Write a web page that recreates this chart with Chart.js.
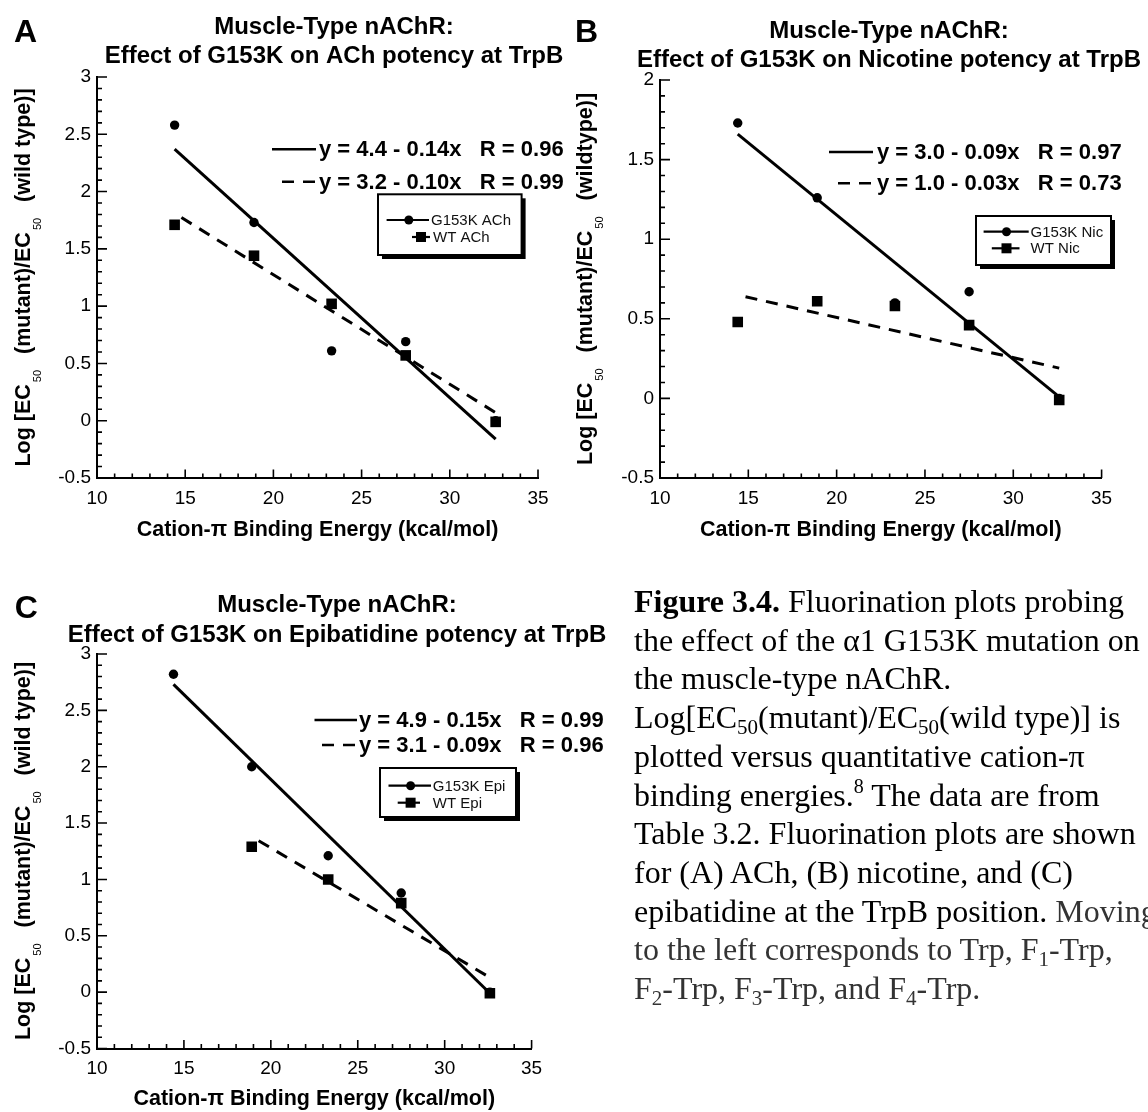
<!DOCTYPE html>
<html>
<head>
<meta charset="utf-8">
<script src="https://cdn.jsdelivr.net/npm/chart.js@4.4.1/dist/chart.umd.min.js"></script>
<style>
  html, body { margin:0; padding:0; background:#fff; }
  body { width:1148px; height:1112px; overflow:hidden; position:relative; }
  canvas { position:absolute; }
  #cap { position:absolute; left:634px; top:582px; font-family:'Liberation Serif','Times New Roman',serif;
         font-size:32px; line-height:38.7px; white-space:nowrap; color:#000; }
  #cap sub { font-size:21px; line-height:0; position:relative; top:0.28em; vertical-align:baseline; }
  #cap sup { font-size:20px; line-height:0; position:relative; top:-0.62em; vertical-align:baseline; }
  #cap .g { color:#333; }
</style>
</head>
<body>
<canvas id="cA" width="640" height="550" style="left:0px;top:0px"></canvas>
<canvas id="cB" width="588" height="550" style="left:560px;top:0px"></canvas>
<canvas id="cC" width="640" height="552" style="left:0px;top:560px"></canvas>
<div id="cap"><b>Figure 3.4.</b> Fluorination plots probing<br>the effect of the α1 G153K mutation on<br>the muscle-type nAChR.<br>Log[EC<sub>50</sub>(mutant)/EC<sub>50</sub>(wild type)] is<br>plotted versus quantitative cation-π<br>binding energies.<sup>8</sup> The data are from<br>Table 3.2. Fluorination plots are shown<br>for (A) ACh, (B) nicotine, and (C)<br>epibatidine at the TrpB position. <span class="g">Moving</span><br><span class="g">to the left corresponds to Trp, F<sub>1</sub>-Trp,</span><br><span class="g">F<sub>2</sub>-Trp, F<sub>3</sub>-Trp, and F<sub>4</sub>-Trp.</span></div>
<script>
// ---------------- data ----------------
const xEnergy = [14.4, 18.9, 23.3, 27.5, 32.6];
const xTicks  = [10, 15, 20, 25, 30, 35];
const yTicksAC = [-0.5, 0, 0.5, 1, 1.5, 2, 2.5, 3];
const yTicksB  = [-0.5, 0, 0.5, 1, 1.5, 2];

const achG153K    = [2.58, 1.73, 0.61, 0.69, 0.00];
const achWT       = [1.71, 1.44, 1.02, 0.57, -0.01];
const achFitX     = [14.4, 32.6];
const achFitG153K = [2.37, -0.16];
const achFitWT    = [1.81, 0.07];

const nicG153K    = [1.73, 1.26, 0.60, 0.67, 0.00];
const nicWT       = [0.48, 0.61, 0.58, 0.46, -0.01];
const nicFitX     = [14.4, 32.6];
const nicFitG153K = [1.66, 0.01];
const nicFitWT    = [0.65, 0.19];

const epiG153K     = [2.82, 2.00, 1.21, 0.88, 0.00];
const xEpiWT       = [18.9, 23.3, 27.5, 32.6];
const epiWT        = [1.29, 1.00, 0.79, -0.01];
const epiFitG153KX = [14.4, 32.6];
const epiFitG153K  = [2.73, -0.01];
const epiFitWTX    = [18.9, 32.6];
const epiFitWT     = [1.38, 0.13];

const panelLetters = ['A', 'B', 'C'];
const titleLine1   = 'Muscle-Type nAChR:';
const titleLine2   = ['Effect of G153K on ACh potency at TrpB',
                      'Effect of G153K on Nicotine potency at TrpB',
                      'Effect of G153K on Epibatidine potency at TrpB'];
const xAxisTitle   = 'Cation-\u03c0 Binding Energy (kcal/mol)';
const yTitleParts  = [['Log [EC', '50', '(mutant)/EC', '50', '(wild type)]'],
                      ['Log [EC', '50', '(mutant)/EC', '50', '(wildtype)]'],
                      ['Log [EC', '50', '(mutant)/EC', '50', '(wild type)]']];
const eqSolid  = ['y = 4.4 - 0.14x   R = 0.96', 'y = 3.0 - 0.09x   R = 0.97', 'y = 4.9 - 0.15x   R = 0.99'];
const eqDashed = ['y = 3.2 - 0.10x   R = 0.99', 'y = 1.0 - 0.03x   R = 0.73', 'y = 3.1 - 0.09x   R = 0.96'];
const legendG  = ['G153K ACh', 'G153K Nic', 'G153K Epi'];
const legendWT = ['WT ACh', 'WT Nic', 'WT Epi'];

// ---------------- layout (page coordinates) ----------------
const FONT = "'Liberation Sans', Arial, Helvetica, sans-serif";
const layouts = [
  { id:'cA', box:{left:0, top:0, w:640, h:550}, area:{l:97, r:538, t:77, b:478},
    xTickPad:9.6, xTitlePad:7,
    letter:{x:14, y:41.5}, title:{x:334, y1:34.3, y2:63.3}, yTitle:{x:30, cy:277.5},
    eq:{solid:[272,316], dash:[282,316], tx:319, y:[149.3,181.7]},
    leg:{x:378, y:194.3, w:143.6, h:60.7,
         rows:[{y:220, x0:386.6, x1:429, mx:408.8, tx:431}, {y:237, x0:412, x1:430, mx:421, tx:433}]} },
  { id:'cB', box:{left:560, top:0, w:588, h:550}, area:{l:660, r:1101.6, t:80, b:478},
    xTickPad:9.6, xTitlePad:7,
    letter:{x:575, y:41.7}, title:{x:889, y1:37.8, y2:67}, yTitle:{x:592, cy:279},
    eq:{solid:[829,873], dash:[838,873], tx:877, y:[152,183.3]},
    leg:{x:976, y:216, w:135, h:49,
         rows:[{y:231.7, x0:983.6, x1:1028.7, mx:1006.5, tx:1030.6}, {y:248.3, x0:991.8, x1:1019.5, mx:1006.5, tx:1030.6}]} },
  { id:'cC', box:{left:0, top:560, w:640, h:552}, area:{l:97, r:531.6, t:654, b:1048.5},
    xTickPad:9.1, xTitlePad:0,
    letter:{x:14.8, y:618}, title:{x:337, y1:611.5, y2:641.5}, yTitle:{x:30, cy:851},
    eq:{solid:[314.5,357], dash:[322,357], tx:359, y:[720,745]},
    leg:{x:380, y:768, w:136, h:49,
         rows:[{y:785.7, x0:388.5, x1:431, mx:410.6, tx:432.8}, {y:802.7, x0:397.7, x1:420, mx:410.6, tx:432.8}]} }
];

const series = [
  { gX:xEnergy, gY:achG153K, wX:xEnergy, wY:achWT, fgX:achFitX, fgY:achFitG153K, fwX:achFitX, fwY:achFitWT, yTicks:yTicksAC },
  { gX:xEnergy, gY:nicG153K, wX:xEnergy, wY:nicWT, fgX:nicFitX, fgY:nicFitG153K, fwX:nicFitX, fwY:nicFitWT, yTicks:yTicksB },
  { gX:xEnergy, gY:epiG153K, wX:xEpiWT, wY:epiWT, fgX:epiFitG153KX, fgY:epiFitG153K, fwX:epiFitWTX, fwY:epiFitWT, yTicks:yTicksAC }
];

function pts(xs, ys) { return xs.map((x, i) => ({ x: x, y: ys[i] })); }

function makeDecor(i, L) {
  const ox = L.box.left, oy = L.box.top;
  return {
    id: 'decor' + i,
    afterDraw(chart) {
      const ctx = chart.ctx;
      const xs = chart.scales.x, ys = chart.scales.y;
      ctx.save();
      ctx.translate(-ox, -oy);          // draw in page coordinates
      ctx.fillStyle = '#000';
      ctx.strokeStyle = '#000';

      // inward tick marks from the library scales
      ctx.lineWidth = 1.6;
      ctx.beginPath();
      const xl = xs.getPixelForValue(xs.min) + ox, yb = ys.getPixelForValue(ys.min) + oy;
      for (let v = Math.round(xs.min); v <= Math.round(xs.max); v++) {
        const px = xs.getPixelForValue(v) + ox;
        const len = (v % 5 === 0) ? 8.5 : 4.5;
        ctx.moveTo(px, yb); ctx.lineTo(px, yb - len);
      }
      for (let n = Math.round(ys.min * 10); n <= Math.round(ys.max * 10); n++) {
        const py = ys.getPixelForValue(n / 10) + oy;
        const len = (n % 5 === 0) ? 10 : 5;
        ctx.moveTo(xl, py); ctx.lineTo(xl + len, py);
      }
      ctx.stroke();

      // panel letter
      ctx.textAlign = 'left'; ctx.textBaseline = 'alphabetic';
      ctx.font = 'bold 32px ' + FONT;
      ctx.fillText(panelLetters[i], L.letter.x, L.letter.y);

      // title
      ctx.textAlign = 'center';
      ctx.font = 'bold 24px ' + FONT;
      ctx.fillText(titleLine1, L.title.x, L.title.y1);
      ctx.fillText(titleLine2[i], L.title.x, L.title.y2);

      // y-axis title with subscripts
      ctx.save();
      ctx.translate(L.yTitle.x, L.yTitle.cy);
      ctx.rotate(-Math.PI / 2);
      ctx.textAlign = 'left';
      const mainF = 'bold 21.5px ' + FONT, subF = '11px ' + FONT;
      const parts = yTitleParts[i];
      const gaps = [2, 16, 2, 16, 0];
      let total = 0;
      parts.forEach((p, k) => { ctx.font = (k % 2) ? subF : mainF; total += ctx.measureText(p).width + gaps[k]; });
      let cx = -total / 2;
      parts.forEach((p, k) => {
        ctx.font = (k % 2) ? subF : mainF;
        ctx.fillText(p, cx, (k % 2) ? 11 : 0);
        cx += ctx.measureText(p).width + gaps[k];
      });
      ctx.restore();

      // equations
      ctx.lineWidth = 2.6;
      ctx.beginPath();
      ctx.moveTo(L.eq.solid[0], L.eq.y[0]); ctx.lineTo(L.eq.solid[1], L.eq.y[0]);
      ctx.stroke();
      ctx.setLineDash([12, 9]);
      ctx.beginPath();
      ctx.moveTo(L.eq.dash[0], L.eq.y[1]); ctx.lineTo(L.eq.dash[1], L.eq.y[1]);
      ctx.stroke();
      ctx.setLineDash([]);
      ctx.textAlign = 'left'; ctx.textBaseline = 'middle';
      ctx.font = 'bold 22px ' + FONT;
      ctx.fillText(eqSolid[i], L.eq.tx, L.eq.y[0] + 1);
      ctx.fillText(eqDashed[i], L.eq.tx, L.eq.y[1] + 1);

      // legend box with shadow
      const g = L.leg;
      ctx.fillStyle = '#000';
      ctx.fillRect(g.x + 4, g.y + 4, g.w, g.h);
      ctx.fillStyle = '#fff';
      ctx.fillRect(g.x, g.y, g.w, g.h);
      ctx.lineWidth = 2;
      ctx.strokeRect(g.x, g.y, g.w, g.h);
      ctx.fillStyle = '#000';
      ctx.lineWidth = 2.2;
      const r0 = g.rows[0], r1 = g.rows[1];
      ctx.beginPath(); ctx.moveTo(r0.x0, r0.y); ctx.lineTo(r0.x1, r0.y); ctx.stroke();
      ctx.beginPath(); ctx.arc(r0.mx, r0.y, 4.5, 0, Math.PI * 2); ctx.fill();
      ctx.beginPath(); ctx.moveTo(r1.x0, r1.y); ctx.lineTo(r1.x1, r1.y); ctx.stroke();
      ctx.fillRect(r1.mx - 5, r1.y - 5, 10, 10);
      ctx.font = '15px ' + FONT;
      ctx.fillStyle = '#111';
      ctx.fillText(legendG[i], r0.tx, r0.y + 1);
      ctx.fillText(legendWT[i], r1.tx, r1.y + 1);
      ctx.restore();
    }
  };
}

function makeChart(i) {
  const L = layouts[i], d = series[i];
  const cv = document.getElementById(L.id);
  const yLeft = L.area.l - L.box.left;
  const xHeight = L.box.top + L.box.h - L.area.b;
  new Chart(cv.getContext('2d'), {
    type: 'scatter',
    data: { datasets: [
      { label: legendWT[i], data: pts(d.wX, d.wY), pointStyle: 'rect', pointRadius: 7.5, pointHoverRadius: 7.5,
        backgroundColor: '#000', borderColor: '#000', pointBorderWidth: 0, order: 0 },
      { label: legendG[i], data: pts(d.gX, d.gY), pointStyle: 'circle', pointRadius: 4.7, pointHoverRadius: 4.7,
        backgroundColor: '#000', borderColor: '#000', pointBorderWidth: 0, order: 1 },
      { label: legendG[i] + ' fit', data: pts(d.fgX, d.fgY), showLine: true, pointRadius: 0, pointHoverRadius: 0,
        borderColor: '#000', borderWidth: 3, order: 2 },
      { label: legendWT[i] + ' fit', data: pts(d.fwX, d.fwY), showLine: true, pointRadius: 0, pointHoverRadius: 0,
        borderColor: '#000', borderWidth: 3, borderDash: [12, 9], borderDashOffset: 13, order: 2 }
    ]},
    options: {
      responsive: false, animation: false, devicePixelRatio: 1,
      events: [],
      layout: { padding: { left: 0, top: L.area.t - L.box.top, right: L.box.left + L.box.w - L.area.r, bottom: 0 } },
      plugins: { legend: { display: false }, title: { display: false }, tooltip: { enabled: false } },
      scales: {
        x: {
          type: 'linear', position: 'bottom', min: xTicks[0], max: xTicks[xTicks.length - 1],
          afterFit: s => { s.height = xHeight; },
          afterBuildTicks: s => { s.ticks = xTicks.map(v => ({ value: v })); },
          grid: { display: false, drawTicks: false },
          border: { display: true, color: '#000', width: 2 },
          ticks: { color: '#000', font: { family: FONT, size: 19 }, padding: L.xTickPad, maxRotation: 0, autoSkip: false,
                   callback: v => String(v) },
          title: { display: true, text: xAxisTitle, color: '#000', font: { family: FONT, size: 21.5, weight: 'bold' },
                   padding: { top: 0, bottom: L.xTitlePad } }
        },
        y: {
          type: 'linear', position: 'left', min: d.yTicks[0], max: d.yTicks[d.yTicks.length - 1],
          afterFit: s => { s.width = yLeft; },
          afterBuildTicks: s => { s.ticks = d.yTicks.map(v => ({ value: v })); },
          grid: { display: false, drawTicks: false },
          border: { display: true, color: '#000', width: 2 },
          ticks: { color: '#000', font: { family: FONT, size: 19 }, padding: 6, autoSkip: false,
                   callback: v => String(v) },
          title: { display: false }
        }
      }
    },
    plugins: [makeDecor(i, L)]
  });
}

[0, 1, 2].forEach(makeChart);
</script>
</body>
</html>
